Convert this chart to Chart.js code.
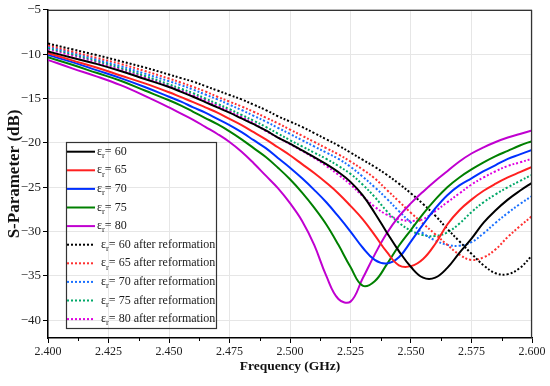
<!DOCTYPE html>
<html><head><meta charset="utf-8">
<script src="https://cdn.jsdelivr.net/npm/chart.js@4.4.1/dist/chart.umd.min.js"></script>
<style>html,body{margin:0;padding:0;background:#fff;}</style>
</head><body>
<canvas id="c" width="550" height="386"></canvas>
<script>
// ---- data ----
const freq = [2.40,2.41,2.42,2.43,2.44,2.45,2.455,2.46,2.465,2.47,2.475,2.48,2.485,2.49,2.495,2.50,2.505,2.51,2.515,2.52,2.525,2.53,2.535,2.54,2.545,2.55,2.555,2.56,2.565,2.57,2.575,2.58,2.585,2.59,2.595,2.60];
const permittivity = [60,65,70,75,80];
const er60 = [-9.7,-10.4,-11.1,-11.9,-12.8,-13.7,-14.25,-14.8,-15.4,-16.0,-16.6,-17.25,-17.9,-18.6,-19.4,-20.1,-20.85,-21.6,-22.4,-23.3,-24.4,-25.9,-27.9,-30.1,-32.2,-34.0,-35.2,-35.2,-34.1,-32.4,-30.8,-29.0,-27.6,-26.4,-25.4,-24.5];
const er65 = [-9.9,-10.7,-11.5,-12.4,-13.3,-14.3,-14.85,-15.4,-16.0,-16.6,-17.3,-18.0,-18.8,-19.6,-20.5,-21.4,-22.4,-23.4,-24.5,-25.7,-27.1,-28.6,-30.4,-32.3,-33.8,-33.9,-33.1,-31.4,-29.2,-27.6,-26.4,-25.4,-24.6,-23.9,-23.3,-22.7];
const er70 = [-10.1,-10.9,-11.8,-12.7,-13.7,-14.8,-15.35,-16.0,-16.6,-17.3,-18.0,-18.8,-19.7,-20.6,-21.7,-22.8,-24.0,-25.3,-26.7,-28.3,-30.0,-31.8,-33.2,-33.6,-32.9,-31.1,-29.2,-27.4,-25.9,-24.8,-24.0,-23.2,-22.5,-21.8,-21.3,-20.8];
const er75 = [-10.35,-11.2,-12.1,-13.0,-14.1,-15.2,-15.8,-16.5,-17.2,-17.9,-18.7,-19.6,-20.6,-21.6,-22.8,-24.1,-25.6,-27.3,-29.2,-31.5,-34.0,-36.1,-35.6,-33.7,-31.6,-29.8,-28.0,-26.4,-25.0,-23.9,-23.0,-22.2,-21.5,-20.9,-20.3,-19.8];
const er80 = [-10.65,-11.6,-12.5,-13.5,-14.7,-16.0,-16.7,-17.4,-18.2,-19.0,-19.9,-21.0,-22.3,-23.7,-25.1,-26.8,-28.8,-31.5,-35.0,-37.6,-37.9,-35.3,-32.6,-30.2,-28.3,-26.8,-25.5,-24.3,-23.2,-22.1,-21.2,-20.5,-19.9,-19.4,-19.0,-18.6];
const er60After = [-8.8,-9.45,-10.1,-10.8,-11.5,-12.3,-12.7,-13.1,-13.6,-14.1,-14.6,-15.1,-15.7,-16.3,-17.0,-17.6,-18.2,-18.9,-19.6,-20.3,-21.1,-21.9,-22.7,-23.6,-24.6,-25.7,-26.9,-28.2,-29.7,-31.1,-32.5,-33.8,-34.7,-34.8,-34.1,-32.7];
const er65After = [-9.0,-9.7,-10.4,-11.1,-11.9,-12.75,-13.2,-13.7,-14.2,-14.8,-15.35,-15.9,-16.5,-17.15,-17.8,-18.5,-19.2,-19.9,-20.6,-21.3,-22.1,-23.0,-24.0,-25.3,-26.6,-27.9,-29.1,-30.3,-31.5,-32.6,-33.2,-32.9,-32.0,-30.6,-29.4,-28.25];
const er70After = [-9.15,-9.85,-10.6,-11.35,-12.2,-13.05,-13.5,-14.0,-14.55,-15.1,-15.7,-16.3,-16.95,-17.6,-18.3,-19.0,-19.7,-20.4,-21.1,-21.8,-22.7,-23.8,-25.0,-26.3,-27.7,-29.0,-30.2,-31.0,-31.5,-31.6,-31.2,-30.2,-29.0,-27.9,-26.9,-26.0];
const er75After = [-9.3,-10.0,-10.75,-11.55,-12.45,-13.4,-13.9,-14.4,-15.0,-15.6,-16.2,-16.85,-17.5,-18.2,-18.95,-19.7,-20.4,-21.1,-21.8,-22.6,-23.5,-24.7,-26.1,-27.7,-29.0,-29.9,-30.4,-30.5,-30.1,-29.1,-27.8,-26.7,-25.8,-25.0,-24.3,-23.6];
const er80After = [-9.45,-10.15,-10.9,-11.7,-12.6,-13.6,-14.1,-14.65,-15.2,-15.8,-16.45,-17.1,-17.8,-18.65,-19.4,-20.15,-20.9,-21.7,-22.6,-23.6,-24.7,-26.0,-27.2,-28.1,-28.6,-28.8,-28.6,-27.7,-26.7,-25.7,-24.7,-23.9,-23.2,-22.6,-22.2,-21.8];
const xTicks = [2.400,2.425,2.450,2.475,2.500,2.525,2.550,2.575,2.600];
const xMinorTicks = [2.4125,2.4375,2.4625,2.4875,2.5125,2.5375,2.5625,2.5875];
const yTicks = [-40,-35,-30,-25,-20,-15,-10,-5];

const solidColors = ['#000000','#ff2020','#0030ff','#008000','#c000d0'];
const dottedColors = ['#000000','#ff3030','#1a70ff','#00a868','#e000e0'];
const solidSeries = [er60,er65,er70,er75,er80];
const dottedSeries = [er60After,er65After,er70After,er75After,er80After];

const datasets = [];
solidSeries.forEach((arr,i)=>datasets.push({
  label:'εr= '+permittivity[i], suffix:'', data:freq.map((f,j)=>({x:f,y:arr[j]})),
  borderColor:solidColors[i], borderWidth:2, pointRadius:0, fill:false, tension:0.4
}));
dottedSeries.forEach((arr,i)=>datasets.push({
  label:'εr= '+permittivity[i]+' after reformation', suffix:' after reformation', data:freq.map((f,j)=>({x:f,y:arr[j]})),
  borderColor:dottedColors[i], borderWidth:2, borderDash:[2,2], pointRadius:0, fill:false, tension:0.4
}));

const serif = '"Liberation Serif", "Times New Roman", serif';

const decor = {
  id:'decor',
  afterDatasetsDraw(chart){
    const ctx = chart.ctx, a = chart.chartArea;
    const xs = chart.scales.x;
    ctx.save();
    ctx.strokeStyle = '#333'; ctx.lineWidth = 1.2;
    ctx.beginPath();
    ctx.moveTo(a.left, a.top+0.5); ctx.lineTo(a.right-0.5, a.top+0.5); ctx.lineTo(a.right-0.5, a.bottom);
    ctx.stroke();
    ctx.strokeStyle = '#000'; ctx.lineWidth = 1;
    xMinorTicks.forEach(v=>{
      const px = Math.round(xs.getPixelForValue(v))+0.5;
      ctx.beginPath(); ctx.moveTo(px,a.bottom); ctx.lineTo(px,a.bottom+3); ctx.stroke();
    });
    const lx = 66, ly = 142, lw = 150, lh = 186;
    ctx.strokeStyle = '#333'; ctx.lineWidth = 1.2;
    ctx.strokeRect(lx+0.5, ly+0.5, lw, lh);
    chart.data.datasets.forEach((ds,i)=>{
      const y = 151.7 + i*18.6;
      ctx.setLineDash(ds.borderDash||[]);
      ctx.strokeStyle = ds.borderColor; ctx.lineWidth = ds.borderWidth;
      ctx.beginPath(); ctx.moveTo(67,y); ctx.lineTo(95,y); ctx.stroke();
      ctx.setLineDash([]);
      let tx = ds.suffix ? 101 : 97;
      ctx.fillStyle = '#1a1a1a'; ctx.textBaseline = 'middle'; ctx.textAlign = 'left';
      ctx.font = '12px '+serif; ctx.fillText('ε', tx, y); tx += ctx.measureText('ε').width;
      ctx.font = '8.5px '+serif; ctx.fillText('r', tx, y+4); tx += ctx.measureText('r').width;
      ctx.font = '12px '+serif; ctx.fillText('= '+permittivity[i%5]+ds.suffix, tx, y);
    });
    ctx.restore();
  }
};

new Chart(document.getElementById('c'), {
  type:'line',
  data:{datasets},
  plugins:[decor],
  options:{
    responsive:false, animation:false, devicePixelRatio:1,
    layout:{padding:{top:9,right:18,left:0,bottom:0}},
    plugins:{legend:{display:false}, tooltip:{enabled:false}},
    scales:{
      x:{type:'linear', min:2.4, max:2.6,
        afterBuildTicks:s=>{s.ticks = xTicks.map(v=>({value:v}));},
        afterFit:s=>{s.height = 48;},
        ticks:{font:{family:serif,size:12}, color:'#222', padding:2, maxRotation:0, callback:v=>v.toFixed(3)},
        grid:{color:'#e6e6e6', lineWidth:1, tickColor:'#000', tickLength:5},
        border:{color:'#000', width:1.5},
        title:{display:true, text:'Frequency (GHz)', font:{family:serif,size:13.5,weight:'bold'}, color:'#111', padding:{top:0,bottom:11}}
      },
      y:{type:'linear', min:-42, max:-5,
        afterBuildTicks:s=>{s.ticks = yTicks.map(v=>({value:v}));},
        afterFit:s=>{s.width = 48;},
        ticks:{font:{family:serif,size:13}, color:'#222', padding:2, callback:v=>String(v).replace('-','\u2212')},
        grid:{color:'#e6e6e6', lineWidth:1, tickColor:'#000', tickLength:5},
        border:{color:'#000', width:1.5},
        title:{display:true, text:'S-Parameter (dB)', font:{family:serif,size:17,weight:'bold'}, color:'#111', padding:{top:4,bottom:0}}
      }
    }
  }
});
</script>
</body></html>
